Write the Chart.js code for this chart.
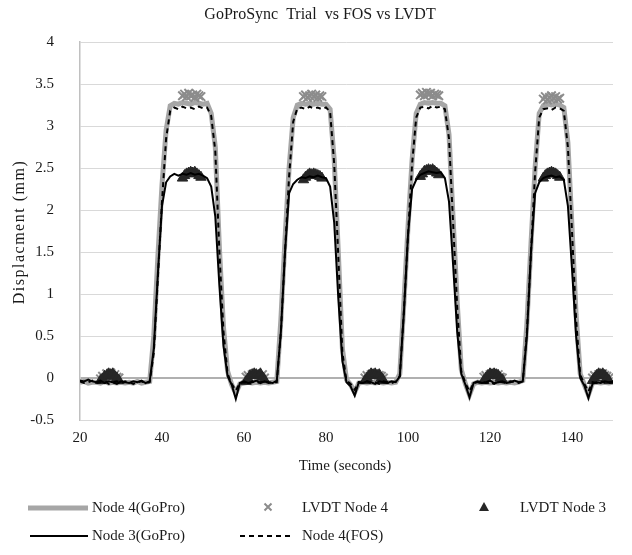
<!DOCTYPE html>
<html>
<head>
<meta charset="utf-8">
<title>GoProSync Trial vs FOS vs LVDT</title>
<script src="https://cdn.jsdelivr.net/npm/chart.js@4.4.1/dist/chart.umd.min.js"></script>
<style>
    body { margin: 0; background: #fff; }
    canvas { display: block; }
</style>
</head>
<body>
<canvas id="trialChart" width="632" height="555"></canvas>
<script>
'use strict';

let chartTitle = 'GoProSync  Trial  vs FOS vs LVDT';
let xTitle = 'Time (seconds)';
let yTitle = 'Displacment (mm)';

let xTicks = [20, 40, 60, 80, 100, 120, 140];
let yTicks = [-0.5, 0, 0.5, 1, 1.5, 2, 2.5, 3, 3.5, 4];

// GoPro / FOS traces, one value per second
let timeSec = [
    20, 21, 22, 23, 24, 25, 26, 27, 28, 29,
    30, 31, 32, 33, 34, 35, 36, 37, 38, 39,
    40, 41, 42, 43, 44, 45, 46, 47, 48, 49,
    50, 51, 52, 53, 54, 55, 56, 57, 58, 59,
    60, 61, 62, 63, 64, 65, 66, 67, 68, 69,
    70, 71, 72, 73, 74, 75, 76, 77, 78, 79,
    80, 81, 82, 83, 84, 85, 86, 87, 88, 89,
    90, 91, 92, 93, 94, 95, 96, 97, 98, 99,
    100, 101, 102, 103, 104, 105, 106, 107, 108, 109,
    110, 111, 112, 113, 114, 115, 116, 117, 118, 119,
    120, 121, 122, 123, 124, 125, 126, 127, 128, 129,
    130, 131, 132, 133, 134, 135, 136, 137, 138, 139,
    140, 141, 142, 143, 144, 145, 146, 147, 148, 149,
    150];

let node4GoPro = [
    -0.05, -0.04, -0.06, -0.05, -0.05, -0.06, -0.04, -0.06, -0.05, -0.06,
    -0.05, -0.06, -0.05, -0.06, -0.04, -0.06, -0.05, -0.04, 0.50, 1.45,
    2.30, 2.95, 3.24, 3.27, 3.26, 3.28, 3.27, 3.26, 3.28, 3.27,
    3.26, 3.27, 3.15, 2.75, 1.55, 0.60, 0.08, -0.08, -0.18, -0.07,
    -0.06, -0.05, -0.06, -0.05, -0.06, -0.05, -0.06, -0.05, -0.04, 0.70,
    1.65, 2.50, 3.10, 3.25, 3.27, 3.26, 3.27, 3.26, 3.27, 3.26,
    3.26, 3.20, 2.60, 1.50, 0.35, -0.02, -0.08, -0.17, -0.06, -0.05,
    -0.06, -0.05, -0.06, -0.05, -0.06, -0.05, -0.06, -0.05, 0.05, 0.90,
    1.80, 2.60, 3.15, 3.26, 3.28, 3.27, 3.28, 3.27, 3.27, 3.24,
    2.90, 1.90, 0.90, 0.10, -0.07, -0.20, -0.07, -0.05, -0.06, -0.05,
    -0.06, -0.05, -0.06, -0.05, -0.06, -0.05, -0.06, -0.05, -0.03, 0.65,
    1.60, 2.50, 3.15, 3.24, 3.26, 3.25, 3.26, 3.25, 3.22, 2.80,
    1.80, 0.75, 0.05, -0.08, -0.20, -0.06, -0.05, -0.06, -0.05, -0.06,
    -0.05];

let node3GoPro = [
    -0.03, -0.04, -0.02, -0.04, -0.05, -0.03, -0.06, -0.04, -0.05, -0.07,
    -0.04, -0.05, -0.06, -0.04, -0.05, -0.03, -0.06, -0.04, 0.35, 1.25,
    2.05, 2.33, 2.40, 2.43, 2.41, 2.43, 2.42, 2.44, 2.42, 2.43,
    2.41, 2.38, 2.28, 1.92, 1.10, 0.38, 0.02, -0.08, -0.25, -0.06,
    -0.04, -0.06, -0.05, -0.03, -0.06, -0.04, -0.05, -0.06, -0.03, 0.55,
    1.50, 2.20, 2.31, 2.36, 2.39, 2.38, 2.40, 2.39, 2.41, 2.39,
    2.38, 2.28, 1.85, 0.95, 0.20, -0.05, -0.10, -0.21, -0.05, -0.06,
    -0.04, -0.05, -0.07, -0.04, -0.05, -0.06, -0.04, -0.05, 0.02, 0.78,
    1.70, 2.25, 2.36, 2.42, 2.44, 2.46, 2.45, 2.44, 2.45, 2.38,
    2.10, 1.35, 0.55, 0.05, -0.08, -0.23, -0.06, -0.04, -0.06, -0.05,
    -0.03, -0.06, -0.05, -0.04, -0.06, -0.05, -0.03, -0.05, -0.04, 0.50,
    1.50, 2.20, 2.33, 2.38, 2.40, 2.41, 2.39, 2.40, 2.36, 2.05,
    1.30, 0.50, 0.00, -0.09, -0.24, -0.07, -0.05, -0.06, -0.04, -0.05,
    -0.04];

let node4FOS = [
    -0.04, -0.06, -0.05, -0.03, -0.06, -0.05, -0.04, -0.07, -0.05, -0.04,
    -0.06, -0.04, -0.05, -0.07, -0.05, -0.04, -0.06, -0.05, 0.30, 1.20,
    2.10, 2.85, 3.18, 3.22, 3.20, 3.23, 3.21, 3.22, 3.20, 3.23,
    3.21, 3.22, 3.12, 2.70, 1.50, 0.55, 0.05, -0.07, -0.15, -0.06,
    -0.05, -0.07, -0.04, -0.06, -0.05, -0.04, -0.06, -0.05, -0.05, 0.55,
    1.50, 2.40, 3.05, 3.21, 3.22, 3.20, 3.23, 3.21, 3.22, 3.20,
    3.22, 3.17, 2.55, 1.45, 0.30, -0.03, -0.07, -0.14, -0.05, -0.06,
    -0.04, -0.06, -0.05, -0.07, -0.04, -0.05, -0.06, -0.04, 0.02, 0.80,
    1.70, 2.55, 3.10, 3.22, 3.23, 3.21, 3.24, 3.22, 3.23, 3.20,
    2.85, 1.85, 0.85, 0.08, -0.06, -0.16, -0.06, -0.05, -0.04, -0.06,
    -0.05, -0.07, -0.04, -0.05, -0.06, -0.04, -0.05, -0.06, -0.04, 0.55,
    1.50, 2.45, 3.10, 3.20, 3.21, 3.19, 3.22, 3.21, 3.18, 2.75,
    1.75, 0.70, 0.04, -0.07, -0.16, -0.05, -0.06, -0.04, -0.05, -0.06,
    -0.05];

// LVDT readings, only taken while resting at zero or at the top
let lvdtTime = [
    25, 25.5, 26, 26.5, 27, 27.5, 28, 28.5, 29, 29.5,
    45, 45.5, 46, 46.5, 47, 47.5, 48, 48.5, 49, 49.5,
    60.5, 61, 61.5, 62, 62.5, 63, 63.5, 64, 64.5, 65,
    74.5, 75, 75.5, 76, 76.5, 77, 77.5, 78, 78.5, 79,
    89.5, 90, 90.5, 91, 91.5, 92, 92.5, 93, 93.5, 94,
    103, 103.5, 104, 104.5, 105, 105.5, 106, 106.5, 107, 107.5,
    118.5, 119, 119.5, 120, 120.5, 121, 121.5, 122, 122.5, 123,
    133, 133.5, 134, 134.5, 135, 135.5, 136, 136.5, 137,
    145, 145.5, 146, 146.5, 147, 147.5, 148, 148.5, 149];

let lvdtNode4 = [
    -0.01, 0.02, 0.00, 0.05, 0.03, 0.06, 0.02, 0.04, 0.01, 0.00,
    3.36, 3.38, 3.35, 3.39, 3.36, 3.37, 3.34, 3.38, 3.36, 3.35,
    0.01, 0.03, 0.00, 0.04, 0.02, 0.05, 0.03, 0.01, 0.04, 0.00,
    3.35, 3.37, 3.34, 3.36, 3.38, 3.35, 3.37, 3.34, 3.36, 3.35,
    0.00, 0.03, 0.01, 0.04, 0.02, 0.05, 0.01, 0.03, 0.02, 0.00,
    3.37, 3.39, 3.36, 3.40, 3.38, 3.39, 3.36, 3.38, 3.37, 3.36,
    0.01, 0.03, 0.00, 0.04, 0.03, 0.05, 0.02, 0.04, 0.01, 0.00,
    3.32, 3.35, 3.31, 3.34, 3.36, 3.33, 3.35, 3.32, 3.33,
    0.00, 0.03, 0.01, 0.04, 0.02, 0.05, 0.03, 0.02, 0.00];

let lvdtNode3 = [
    -0.03, -0.01, 0.02, 0.03, 0.05, 0.04, 0.05, 0.02, 0.00, -0.03,
    2.38, 2.41, 2.43, 2.44, 2.45, 2.44, 2.45, 2.43, 2.41, 2.39,
    -0.04, -0.01, 0.03, 0.04, 0.05, 0.04, 0.03, 0.05, 0.01, -0.02,
    2.36, 2.39, 2.41, 2.43, 2.42, 2.43, 2.42, 2.41, 2.40, 2.38,
    -0.03, 0.00, 0.03, 0.05, 0.04, 0.05, 0.03, 0.04, 0.00, -0.03,
    2.40, 2.43, 2.46, 2.47, 2.48, 2.47, 2.48, 2.46, 2.44, 2.42,
    -0.03, 0.00, 0.03, 0.05, 0.04, 0.05, 0.04, 0.03, 0.00, -0.02,
    2.38, 2.41, 2.43, 2.44, 2.45, 2.44, 2.43, 2.41, 2.39,
    -0.03, 0.00, 0.03, 0.05, 0.04, 0.05, 0.03, 0.00, -0.03];

let serif = "'Liberation Serif', 'Times New Roman', serif";
let textColor = '#1a1a1a';

function toPoints(xs, ys) {
    let pts = [];
    for (let i = 0; i < xs.length; i++) {
        pts.push({ x: xs[i], y: ys[i] });
    }
    return pts;
}

// title, axis titles and the legend are painted by hand so they sit where Excel put them
let textPlugin = {
    id: 'textPlugin',
    beforeDraw(chart) {
        let ctx = chart.ctx;
        ctx.save();
        ctx.fillStyle = '#fff';
        ctx.fillRect(0, 0, chart.width, chart.height);
        ctx.restore();
    },
    afterDraw(chart) {
        let ctx = chart.ctx;
        let ds = chart.data.datasets;
        ctx.save();
        ctx.fillStyle = textColor;
        ctx.textAlign = 'center';
        ctx.textBaseline = 'middle';

        ctx.font = '16px ' + serif;
        ctx.fillText(chartTitle, 320, 15);

        ctx.font = '15px ' + serif;
        ctx.fillText(xTitle, 345, 466);

        ctx.save();
        ctx.translate(20, 232);
        ctx.rotate(-Math.PI / 2);
        ctx.font = '16px ' + serif;
        ctx.letterSpacing = '1.5px';
        ctx.fillText(yTitle, 0, 0);
        ctx.restore();

        // legend
        ctx.font = '15px ' + serif;
        ctx.textAlign = 'left';
        let row1 = 508;
        let row2 = 536;

        drawLegendLine(ctx, ds[0], 28, 88, row1);
        ctx.fillText(ds[0].label, 92, row1);

        drawCross(ctx, 268, row1 - 1, ds[1].borderColor);
        ctx.fillText(ds[1].label, 302, row1);

        drawTriangle(ctx, 484, row1 - 1, ds[2].backgroundColor);
        ctx.fillText(ds[2].label, 520, row1);

        drawLegendLine(ctx, ds[3], 30, 88, row2);
        ctx.fillText(ds[3].label, 92, row2);

        drawLegendLine(ctx, ds[4], 240, 292, row2);
        ctx.fillText(ds[4].label, 302, row2);

        ctx.restore();
    }
};

function drawLegendLine(ctx, d, x1, x2, y) {
    ctx.save();
    ctx.strokeStyle = d.borderColor;
    ctx.lineWidth = d.borderWidth;
    ctx.setLineDash(d.borderDash || []);
    ctx.beginPath();
    ctx.moveTo(x1, y);
    ctx.lineTo(x2, y);
    ctx.stroke();
    ctx.restore();
}

function drawCross(ctx, x, y, color) {
    ctx.save();
    ctx.strokeStyle = color;
    ctx.lineWidth = 2;
    ctx.beginPath();
    ctx.moveTo(x - 3.5, y - 3.5);
    ctx.lineTo(x + 3.5, y + 3.5);
    ctx.moveTo(x + 3.5, y - 3.5);
    ctx.lineTo(x - 3.5, y + 3.5);
    ctx.stroke();
    ctx.restore();
}

function drawTriangle(ctx, x, y, color) {
    ctx.save();
    ctx.fillStyle = color;
    ctx.beginPath();
    ctx.moveTo(x, y - 5);
    ctx.lineTo(x + 5, y + 4);
    ctx.lineTo(x - 5, y + 4);
    ctx.closePath();
    ctx.fill();
    ctx.restore();
}

// Chart.js paints higher "order" first, so the grey GoPro trace goes underneath
let ctx = document.getElementById('trialChart').getContext('2d');
let trialChart = new Chart(ctx, {
    type: 'line',
    data: {
        datasets: [{
            label: 'Node 4(GoPro)',
            data: toPoints(timeSec, node4GoPro),
            borderColor: '#a6a6a6',
            borderWidth: 5,
            pointRadius: 0,
            fill: false,
            order: 5
        }, {
            label: 'LVDT Node 4',
            data: toPoints(lvdtTime, lvdtNode4),
            showLine: false,
            pointStyle: 'crossRot',
            pointRadius: 6,
            borderColor: '#8c8c8c',
            backgroundColor: '#8c8c8c',
            pointBorderWidth: 2,
            order: 4
        }, {
            label: 'LVDT Node 3',
            data: toPoints(lvdtTime, lvdtNode3),
            showLine: false,
            pointStyle: 'triangle',
            pointRadius: 6,
            borderColor: '#262626',
            backgroundColor: '#262626',
            pointBorderWidth: 1,
            order: 3
        }, {
            label: 'Node 3(GoPro)',
            data: toPoints(timeSec, node3GoPro),
            borderColor: '#000',
            borderWidth: 2,
            pointRadius: 0,
            fill: false,
            order: 2
        }, {
            label: 'Node 4(FOS)',
            data: toPoints(timeSec, node4FOS),
            borderColor: '#000',
            borderWidth: 2,
            borderDash: [5, 4],
            pointRadius: 0,
            fill: false,
            order: 1
        }]
    },
    options: {
        responsive: false,
        animation: false,
        devicePixelRatio: 1,
        layout: {
            padding: { left: 0, right: 19, top: 42, bottom: 75 }
        },
        plugins: {
            legend: { display: false },
            title: { display: false },
            tooltip: { enabled: false }
        },
        scales: {
            x: {
                type: 'linear',
                min: 20,
                max: 150,
                afterBuildTicks: function (scale) {
                    scale.ticks = xTicks.map(v => ({ value: v }));
                },
                afterFit: function (scale) {
                    scale.height = 60;
                },
                grid: { display: false, drawTicks: false },
                border: { display: false },
                ticks: {
                    padding: 9,
                    color: textColor,
                    font: { family: serif, size: 15 },
                    maxRotation: 0,
                    callback: v => String(v)
                }
            },
            y: {
                type: 'linear',
                min: -0.5,
                max: 4,
                afterBuildTicks: function (scale) {
                    scale.ticks = yTicks.map(v => ({ value: v }));
                },
                afterFit: function (scale) {
                    scale.width = 80;
                },
                grid: {
                    drawTicks: false,
                    color: c => c.tick && c.tick.value === 0 ? '#b0b0b0' : '#d9d9d9',
                    lineWidth: c => c.tick && c.tick.value === 0 ? 2 : 1
                },
                border: { display: true, color: '#c0c0c0', width: 1.5 },
                ticks: {
                    padding: 26,
                    color: textColor,
                    font: { family: serif, size: 15 },
                    callback: v => String(v)
                }
            }
        }
    },
    plugins: [textPlugin]
});
</script>
</body>
</html>
